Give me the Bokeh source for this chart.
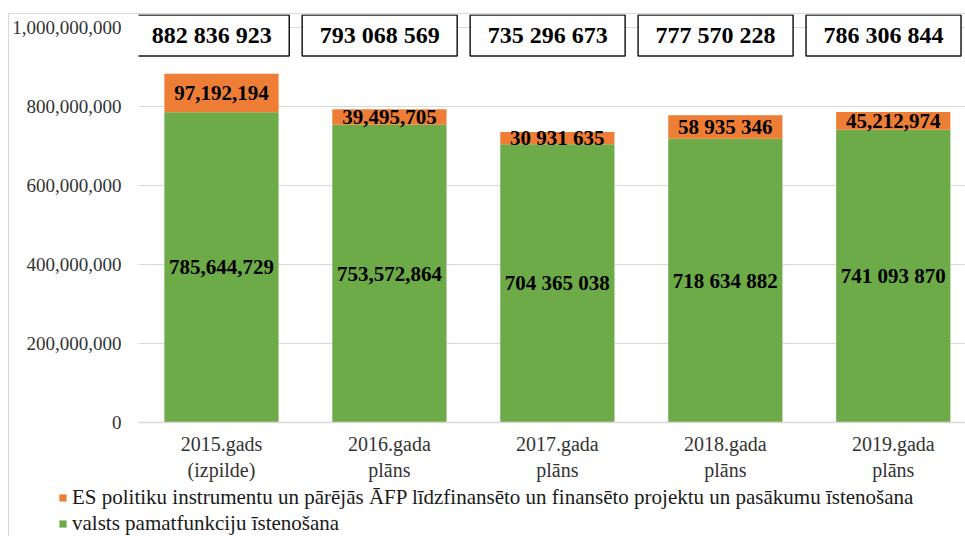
from bokeh.plotting import figure
from bokeh.layouts import column
from bokeh.models import (Range1d, FixedTicker, NumeralTickFormatter, ColumnDataSource,
                          Legend, LegendItem)
from bokeh.core.properties import value
from bokeh.embed import file_html
from bokeh.resources import INLINE

# ---------------- data ----------------
categories = ["2015.gads\n(izpilde)", "2016.gada\nplāns", "2017.gada\nplāns",
              "2018.gada\nplāns", "2019.gada\nplāns"]
pamatfunkcijas = [785644729, 753572864, 704365038, 718634882, 741093870]
es_projekti = [97192194, 39495705, 30931635, 58935346, 45212974]
green_labels = ["785,644,729", "753,572,864", "704 365 038", "718 634 882", "741 093 870"]
orange_labels = ["97,192,194", "39,495,705", "30 931 635", "58 935 346", "45,212,974"]
series_names = ["ES politiku instrumentu un pārējās ĀFP līdzfinansēto un finansēto projektu un pasākumu īstenošana",
                "valsts pamatfunkciju īstenošana"]
y_ticks = [0, 200000000, 400000000, 600000000, 800000000, 1000000000]

# ---------------- styling / layout ----------------
FONT = "Liberation Serif"
GREEN = "#6cab47"
ORANGE = "#ee7d35"
BAR_WIDTH = 0.68
BOX_Y = 980000000
BOX_DX = -0.058

xs = list(range(len(categories)))
totals = [g + o for g, o in zip(pamatfunkcijas, es_projekti)]
total_labels = [f"{t:,}".replace(",", " ") for t in totals]

src = ColumnDataSource(dict(
    x=xs,
    green=pamatfunkcijas,
    total=totals,
    green_mid=[g / 2 for g in pamatfunkcijas],
    orange_mid=[g + o / 2 for g, o in zip(pamatfunkcijas, es_projekti)],
    green_lab=green_labels,
    orange_lab=orange_labels,
    box_x=[x + BOX_DX for x in xs],
    box_y=[BOX_Y] * len(xs),
    total_lab=total_labels,
))

p = figure(width=956, height=471, output_backend="svg", toolbar_location=None,
           x_range=Range1d(-0.494, 4.43), y_range=Range1d(0, 1.0329e9),
           min_border_left=129, min_border_right=0, min_border_top=0,
           min_border_bottom=63)
p.frame_align = False
p.outline_line_color = None
p.background_fill_color = "white"
p.border_fill_color = "white"

g = p.vbar(x="x", top="green", bottom=0, width=BAR_WIDTH, source=src,
           fill_color=GREEN, line_color=None)
o = p.vbar(x="x", bottom="green", top="total", width=BAR_WIDTH, source=src,
           fill_color=ORANGE, line_color=None)

p.text(x="x", y="green_mid", text="green_lab", source=src, text_font=value(FONT),
       text_font_style="bold", text_font_size="21px", text_align="center",
       text_baseline="middle", text_color="black")
p.text(x="x", y="orange_mid", text="orange_lab", source=src, text_font=value(FONT),
       text_font_style="bold", text_font_size="21px", text_align="center",
       text_baseline="middle", text_color="black")

p.rect(x="box_x", y="box_y", width=155, height=41, width_units="screen",
       height_units="screen", source=src, fill_color="white",
       line_color="#1a1a1a", line_width=1.5)
p.text(x="box_x", y="box_y", text="total_lab", source=src, text_font=value(FONT),
       text_font_style="bold", text_font_size="24px", text_align="center",
       text_baseline="middle", text_color="black")

# grid
p.xgrid.grid_line_color = None
p.ygrid.grid_line_color = "#d9d9d9"
p.ygrid.ticker = FixedTicker(ticks=y_ticks)

# y axis
p.yaxis.ticker = FixedTicker(ticks=y_ticks)
p.yaxis.formatter = NumeralTickFormatter(format="0,0")
p.yaxis.axis_line_color = None
p.yaxis.major_tick_line_color = None
p.yaxis.minor_tick_line_color = None
p.yaxis.major_tick_out = 0
p.yaxis.minor_tick_out = 0
p.yaxis.major_label_standoff = 17
p.yaxis.major_label_text_font = FONT
p.yaxis.major_label_text_font_size = "19px"
p.yaxis.major_label_text_color = "#333333"

# x axis
p.xaxis.ticker = FixedTicker(ticks=xs)
p.xaxis.major_label_overrides = {i: c for i, c in zip(xs, categories)}
p.xaxis.axis_line_color = "#d9d9d9"
p.xaxis.axis_line_width = 1.5
p.xaxis.major_tick_line_color = None
p.xaxis.minor_tick_line_color = None
p.xaxis.major_tick_out = 0
p.xaxis.minor_tick_out = 0
p.xaxis.major_label_standoff = 10
p.xaxis.major_label_text_font = FONT
p.xaxis.major_label_text_font_size = "20px"
p.xaxis.major_label_text_color = "#333333"

# legend strip (separate panel below the chart, so it is not clipped)
lg = figure(width=956, height=51, output_backend="svg", toolbar_location=None,
            x_range=Range1d(0, 1), y_range=Range1d(0, 1),
            x_axis_location=None, y_axis_location=None,
            min_border_left=0, min_border_right=0, min_border_top=0,
            min_border_bottom=0)
lg.frame_align = False
lg.outline_line_color = None
lg.xgrid.visible = False
lg.ygrid.visible = False
proxy = ColumnDataSource(dict(x=[0.5], top=[0]))
lo = lg.vbar(x="x", top="top", bottom=0, width=0.01, source=proxy,
             fill_color=ORANGE, line_color=None)
lgg = lg.vbar(x="x", top="top", bottom=0, width=0.01, source=proxy,
              fill_color=GREEN, line_color=None)
legend = Legend(items=[LegendItem(label=series_names[0], renderers=[lo]),
                       LegendItem(label=series_names[1], renderers=[lgg])],
                location=(49, 0), orientation="vertical",
                glyph_width=9, glyph_height=9, label_standoff=5,
                label_text_font=FONT, label_text_font_size="21px",
                label_text_color="#1a1a1a", spacing=1, padding=0, margin=0,
                border_line_color=None, background_fill_alpha=0)
lg.add_layout(legend)

lay = column(p, lg, spacing=0)
lay.styles = {"margin-left": "8px", "margin-top": "13px",
              "border-left": "1px solid #d9d9d9", "border-top": "1px solid #d9d9d9"}

open("out.html", "w").write(file_html(lay, INLINE))
